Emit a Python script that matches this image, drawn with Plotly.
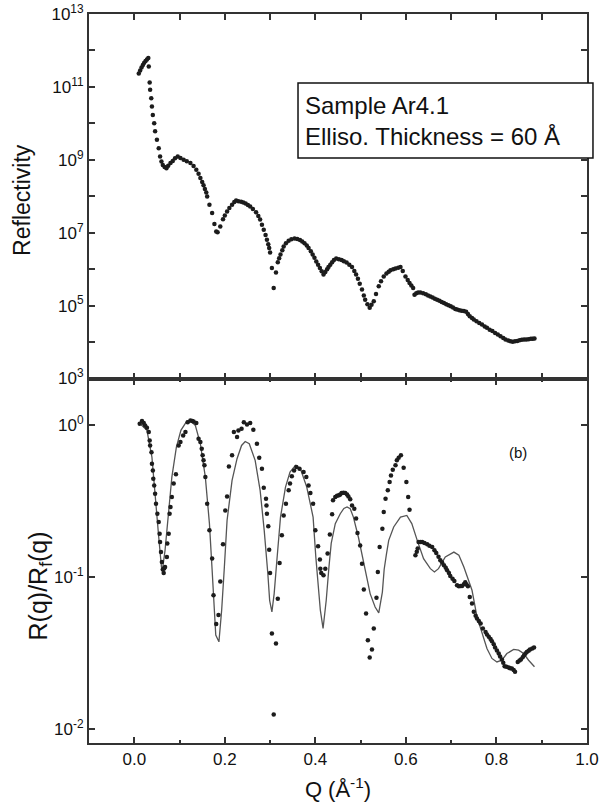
import plotly.graph_objects as go

# ---------------- top panel: reflectivity (Q, log10 R) ----------------
refl_q = [0.010, 0.013, 0.016, 0.019, 0.022, 0.025, 0.028, 0.031, 0.032,
          0.034, 0.035, 0.0375, 0.039, 0.041, 0.044, 0.046, 0.050, 0.054, 0.057, 0.060,
          0.063, 0.067, 0.071, 0.075, 0.080, 0.085, 0.090, 0.096, 0.102, 0.109,
          0.116, 0.124, 0.131, 0.137, 0.142, 0.146, 0.150, 0.153, 0.156, 0.159,
          0.161, 0.166, 0.172, 0.177, 0.181, 0.184, 0.190, 0.196, 0.200, 0.205,
          0.210, 0.216, 0.221, 0.225, 0.230, 0.236, 0.241, 0.246, 0.251, 0.256,
          0.262, 0.269, 0.274, 0.278, 0.282, 0.286, 0.290, 0.293, 0.296, 0.298,
          0.300, 0.304, 0.308, 0.313, 0.317, 0.320, 0.323, 0.327, 0.330, 0.335,
          0.341, 0.347, 0.354, 0.360, 0.366, 0.371, 0.376, 0.381, 0.385, 0.390,
          0.394, 0.398, 0.402, 0.406, 0.410, 0.414, 0.418, 0.422, 0.426, 0.429,
          0.433, 0.437, 0.441, 0.446, 0.452, 0.458, 0.463, 0.469, 0.475, 0.481,
          0.486, 0.490, 0.494, 0.498, 0.503, 0.507, 0.510, 0.515, 0.520, 0.524,
          0.529, 0.534, 0.540, 0.545, 0.551, 0.557, 0.562, 0.566, 0.572, 0.577,
          0.583, 0.588, 0.593, 0.599, 0.604, 0.608, 0.612, 0.616, 0.619, 0.623,
          0.627, 0.632, 0.638, 0.644, 0.649, 0.654, 0.659, 0.664, 0.669, 0.674,
          0.679, 0.684, 0.689, 0.694, 0.699, 0.704, 0.709, 0.713, 0.718, 0.723,
          0.728, 0.733, 0.737, 0.741, 0.746, 0.750, 0.756, 0.762, 0.768, 0.774,
          0.779, 0.785, 0.791, 0.797, 0.803, 0.809, 0.815, 0.820, 0.826, 0.831,
          0.836, 0.841, 0.846, 0.851, 0.856, 0.861, 0.866, 0.871, 0.876, 0.880,
          0.884]
refl_log10 = [11.37, 11.45, 11.53, 11.60, 11.66, 11.71, 11.75, 11.79, 11.56,
              11.12, 10.92, 10.69, 10.46, 10.23, 10.00, 9.78, 9.55, 9.32, 9.09, 8.95,
              8.86, 8.80, 8.77, 8.84, 8.91, 8.97, 9.04, 9.09, 9.05, 9.00,
              8.96, 8.91, 8.83, 8.73, 8.62, 8.50, 8.39, 8.30, 8.20, 8.10,
              7.99, 7.77, 7.54, 7.24, 7.03, 7.01, 7.17, 7.37, 7.47, 7.58,
              7.68, 7.77, 7.84, 7.88, 7.86, 7.85, 7.83, 7.80, 7.76, 7.72,
              7.65, 7.56, 7.46, 7.36, 7.22, 7.08, 6.94, 6.81, 6.68, 6.58,
              6.46, 6.03, 5.48, 5.91, 6.19, 6.30, 6.40, 6.52, 6.62, 6.71,
              6.78, 6.82, 6.84, 6.83, 6.80, 6.76, 6.71, 6.65, 6.58, 6.49,
              6.40, 6.31, 6.21, 6.12, 6.03, 5.94, 5.85, 5.92, 6.00, 6.06,
              6.12, 6.19, 6.25, 6.29, 6.27, 6.25, 6.22, 6.18, 6.12, 6.06,
              5.95, 5.85, 5.74, 5.60, 5.44, 5.28, 5.16, 5.04, 4.94, 5.02,
              5.12, 5.32, 5.53, 5.67, 5.80, 5.88, 5.93, 5.97, 6.00, 6.02,
              6.04, 6.06, 5.95, 5.80, 5.70, 5.62, 5.55, 5.48, 5.30, 5.34,
              5.36, 5.36, 5.34, 5.31, 5.28, 5.25, 5.22, 5.19, 5.16, 5.13,
              5.10, 5.07, 5.04, 5.01, 4.98, 4.95, 4.91, 4.89, 4.87, 4.86,
              4.85, 4.83, 4.77, 4.71, 4.66, 4.62, 4.57, 4.52, 4.48, 4.43,
              4.39, 4.34, 4.30, 4.25, 4.21, 4.16, 4.11, 4.07, 4.04, 4.02,
              4.01, 4.02, 4.03, 4.05, 4.06, 4.07, 4.07, 4.08, 4.09, 4.09,
              4.10]

# ---------------- bottom panel: R(q)/Rf(q) data (Q, log10 ratio) ----------------
ratio_q = [0.012, 0.017, 0.021, 0.024, 0.028, 0.032, 0.034, 0.035, 0.038, 0.039,
           0.041, 0.042, 0.044, 0.046, 0.048, 0.051, 0.054, 0.056, 0.057, 0.059,
           0.061, 0.063, 0.065, 0.066, 0.068, 0.072, 0.073, 0.076, 0.078, 0.080,
           0.083, 0.087, 0.092, 0.098, 0.102, 0.108, 0.113, 0.118, 0.124, 0.128,
           0.131, 0.137, 0.142, 0.146, 0.149, 0.151, 0.153, 0.155, 0.157, 0.161,
           0.166, 0.172, 0.175, 0.181, 0.186, 0.190, 0.196, 0.201, 0.205, 0.209,
           0.216, 0.220, 0.227, 0.230, 0.237, 0.242, 0.249, 0.256, 0.263, 0.271,
           0.276, 0.282, 0.286, 0.291, 0.292, 0.293, 0.296, 0.298, 0.300, 0.304,
           0.308, 0.313, 0.317, 0.321, 0.326, 0.330, 0.335, 0.341, 0.344, 0.348,
           0.353, 0.358, 0.365, 0.374, 0.380, 0.385, 0.389, 0.395, 0.400, 0.406,
           0.410, 0.411, 0.413, 0.418, 0.422, 0.427, 0.432, 0.437, 0.439, 0.444,
           0.448, 0.452, 0.455, 0.458, 0.462, 0.466, 0.470, 0.473, 0.477, 0.481,
           0.486, 0.490, 0.493, 0.499, 0.503, 0.507, 0.512, 0.516, 0.520, 0.525,
           0.529, 0.535, 0.538, 0.542, 0.548, 0.551, 0.555, 0.560, 0.564, 0.567,
           0.571, 0.577, 0.580, 0.584, 0.589, 0.595, 0.601, 0.605, 0.608, 0.621,
           0.624, 0.626, 0.628, 0.632, 0.636, 0.641, 0.647, 0.652, 0.658, 0.663,
           0.667, 0.672, 0.676, 0.680, 0.684, 0.688, 0.691, 0.695, 0.698, 0.703,
           0.707, 0.713, 0.717, 0.721, 0.724, 0.728, 0.731, 0.734, 0.737, 0.741,
           0.746, 0.750, 0.754, 0.757, 0.761, 0.765, 0.770, 0.776, 0.779, 0.783,
           0.787, 0.790, 0.794, 0.797, 0.801, 0.805, 0.808, 0.812, 0.815, 0.818,
           0.822, 0.827, 0.830, 0.834, 0.838, 0.841, 0.847, 0.851, 0.854, 0.858,
           0.861, 0.864, 0.867, 0.871, 0.874, 0.879, 0.883]
ratio_log10 = [0.007, 0.024, 0.011, -0.005, -0.020, -0.048, -0.103, -0.136, -0.180, -0.256,
               -0.300, -0.355, -0.400, -0.453, -0.519, -0.585, -0.640, -0.716, -0.771, -0.836,
               -0.902, -0.952, -0.974, -0.945, -0.935, -0.869, -0.781, -0.716, -0.585, -0.541,
               -0.475, -0.387, -0.326, -0.136, -0.114, -0.070, -0.048, 0.017, 0.028, 0.025,
               0.022, 0.011, -0.092, -0.114, -0.158, -0.200, -0.234, -0.267, -0.344, -0.519,
               -0.694, -0.880, -1.120, -1.310, -1.250, -1.030, -0.786, -0.563, -0.471, -0.274,
               -0.200, -0.048, -0.081, -0.038, -0.027, 0.017, 0.002, 0.011, -0.033, -0.125,
               -0.217, -0.289, -0.414, -0.486, -0.530, -0.585, -0.668, -0.821, -0.974, -1.372,
               -1.904, -1.438, -1.143, -0.909, -0.727, -0.596, -0.519, -0.431, -0.387, -0.339,
               -0.300, -0.278, -0.289, -0.311, -0.344, -0.399, -0.449, -0.519, -0.694, -0.799,
               -0.886, -0.946, -0.974, -0.989, -0.946, -0.847, -0.722, -0.589, -0.497, -0.475,
               -0.466, -0.464, -0.458, -0.449, -0.447, -0.449, -0.458, -0.471, -0.490, -0.530,
               -0.552, -0.617, -0.712, -0.793, -0.913, -1.083, -1.241, -1.416, -1.530, -1.477,
               -1.339, -1.138, -0.968, -0.804, -0.683, -0.574, -0.486, -0.431, -0.377, -0.333,
               -0.295, -0.267, -0.234, -0.217, -0.200, -0.282, -0.377, -0.475, -0.558, -0.858,
               -0.835, -0.814, -0.771, -0.770, -0.771, -0.778, -0.786, -0.795, -0.804, -0.825,
               -0.843, -0.868, -0.891, -0.905, -0.924, -0.940, -0.957, -0.975, -0.995, -1.012,
               -1.027, -1.055, -1.062, -1.060, -1.060, -1.048, -1.036, -1.050, -1.062, -1.132,
               -1.175, -1.230, -1.255, -1.274, -1.290, -1.307, -1.339, -1.362, -1.378, -1.394,
               -1.408, -1.423, -1.443, -1.464, -1.484, -1.504, -1.523, -1.543, -1.565, -1.587,
               -1.590, -1.596, -1.600, -1.602, -1.612, -1.624, -1.559, -1.550, -1.543, -1.528,
               -1.515, -1.504, -1.493, -1.485, -1.477, -1.470, -1.464]

# ---------------- bottom panel: fit curve (Q, log10 ratio) ----------------
fit_q = [0.013, 0.028, 0.039, 0.046, 0.054, 0.060, 0.062, 0.068, 0.076, 0.083,
         0.093, 0.103, 0.116, 0.124, 0.135, 0.146, 0.157, 0.166, 0.172, 0.176,
         0.180, 0.187, 0.193, 0.199, 0.205, 0.216, 0.227, 0.237, 0.245, 0.254,
         0.267, 0.278, 0.287, 0.295, 0.299, 0.304, 0.309, 0.315, 0.323, 0.334,
         0.344, 0.356, 0.367, 0.381, 0.395, 0.401, 0.405, 0.411, 0.417, 0.424,
         0.430, 0.435, 0.444, 0.455, 0.463, 0.470, 0.477, 0.484, 0.495, 0.507,
         0.518, 0.521, 0.532, 0.540, 0.548, 0.552, 0.557, 0.562, 0.573, 0.588,
         0.602, 0.613, 0.625, 0.639, 0.654, 0.663, 0.672, 0.687, 0.706, 0.717,
         0.728, 0.739, 0.746, 0.757, 0.768, 0.779, 0.790, 0.801, 0.812, 0.823,
         0.838, 0.849, 0.860, 0.871, 0.884]
fit_log10 = [0.007, -0.037, -0.213, -0.475, -0.738, -0.935, -0.957, -0.825, -0.563, -0.344,
             -0.147, -0.037, 0.024, 0.028, -0.005, -0.125, -0.344, -0.650, -0.957, -1.200,
             -1.383, -1.427, -1.219, -0.935, -0.628, -0.366, -0.223, -0.136, -0.110, -0.125,
             -0.234, -0.431, -0.694, -0.978, -1.154, -1.230, -1.110, -0.891, -0.607, -0.410,
             -0.311, -0.267, -0.289, -0.410, -0.607, -0.869, -1.022, -1.219, -1.339, -1.154,
             -0.935, -0.780, -0.650, -0.585, -0.550, -0.540, -0.552, -0.607, -0.738, -0.913,
             -1.066, -1.110, -1.198, -1.237, -1.100, -0.950, -0.850, -0.760, -0.672, -0.607,
             -0.596, -0.650, -0.760, -0.880, -0.946, -0.968, -0.946, -0.869, -0.837, -0.858,
             -0.935, -1.022, -1.088, -1.263, -1.372, -1.471, -1.536, -1.559, -1.548, -1.504,
             -1.477, -1.482, -1.504, -1.548, -1.591]

# tick labels
top_tick_exps = [3, 4, 5, 6, 7, 8, 9, 10, 11, 12, 13]
bottom_tick_exps = [-2, -1, 0]
x_major = [0.0, 0.2, 0.4, 0.6, 0.8, 1.0]
x_labels = ["0.0", "0.2", "0.4", "0.6", "0.8", "1.0"]

FONT = "Liberation Sans, Arial, sans-serif"
AX = "#333333"
DOT = "#1c1c1c"

fig = go.Figure()
fig.add_trace(go.Scatter(
    x=refl_q, y=[10 ** e for e in refl_log10], mode="markers",
    marker=dict(size=4.5, color=DOT), xaxis="x2", yaxis="y2", showlegend=False))
fig.add_trace(go.Scatter(
    x=fit_q, y=[10 ** e for e in fit_log10], mode="lines",
    line=dict(color="#555555", width=1.3), xaxis="x", yaxis="y", showlegend=False))
fig.add_trace(go.Scatter(
    x=ratio_q, y=[10 ** e for e in ratio_log10], mode="markers",
    marker=dict(size=4.5, color=DOT), xaxis="x", yaxis="y", showlegend=False))

common_ax = dict(showline=True, linecolor=AX, linewidth=2, mirror="ticks",
                 ticks="inside", tickcolor=AX, tickwidth=1.5, ticklen=6,
                 showgrid=False, zeroline=False, automargin=False,
                 tickfont=dict(family=FONT, size=17, color="#111"))

fig.update_layout(
    width=612, height=810,
    margin=dict(l=89, r=25, t=14, b=67),
    paper_bgcolor="white", plot_bgcolor="white",
    font=dict(family=FONT, color="#111"),
    xaxis=dict(range=[-0.1, 1.0], anchor="y", domain=[0, 1],
               tickvals=x_major, ticktext=x_labels,
               minor=dict(tickvals=[-0.1, 0.1, 0.3, 0.5, 0.7, 0.9], ticks="inside",
                          ticklen=3, tickcolor=AX, tickwidth=1.5),
               title=dict(text="Q (Å<sup>-1</sup>)", font=dict(family=FONT, size=22, color="#111"),
                          standoff=13),
               **common_ax),
    xaxis2=dict(range=[-0.1, 1.0], anchor="y2", matches="x",
                tickvals=[0.0, 0.1, 0.2, 0.3, 0.4, 0.5, 0.6, 0.7, 0.8, 0.9],
                showticklabels=False, **common_ax),
    yaxis=dict(type="log", domain=[0, 0.5], anchor="x", range=[-2.092, 0.304],
               tickvals=[10 ** e for e in bottom_tick_exps],
               ticktext=["10<sup>%d</sup>" % e for e in bottom_tick_exps],
               **common_ax),
    yaxis2=dict(type="log", domain=[0.5, 1], anchor="x2", range=[3, 13],
                tickvals=[10 ** e for e in top_tick_exps],
                ticktext=[("10<sup>%d</sup>" % e) if e % 2 == 1 else "" for e in top_tick_exps],
                **common_ax),
)

# y-axis titles
fig.add_annotation(xref="paper", yref="paper", x=-0.1345, y=0.745,
                   xanchor="center", yanchor="middle", showarrow=False, textangle=-90,
                   text="Reflectivity", font=dict(family=FONT, size=23, color="#111"))
fig.add_annotation(xref="paper", yref="paper", x=-0.098, y=0.215,
                   xanchor="center", yanchor="middle", showarrow=False, textangle=-90,
                   text="R(q)/R<sub>f</sub>(q)", font=dict(family=FONT, size=25, color="#111"))

# sample text box
fig.add_shape(type="rect", xref="paper", yref="paper",
              x0=0.4197, x1=1.012, y0=0.8025, y1=0.9053,
              line=dict(color="#111", width=1.5), fillcolor="white", layer="above")
fig.add_annotation(xref="paper", yref="paper", x=0.4297, y=0.8532,
                   xanchor="left", yanchor="middle", align="left", showarrow=False,
                   text="Sample Ar4.1<br>Elliso. Thickness = 60 Å",
                   font=dict(family=FONT, size=24, color="#111"))
fig.add_annotation(xref="paper", yref="paper", x=0.861, y=0.399,
                   xanchor="center", yanchor="middle", showarrow=False,
                   text="(b)", font=dict(family=FONT, size=15, color="#111"))

# remove the default 8 px page margin so the figure sits at the window origin
fig.write_html("out.html", config={"displayModeBar": False},
               post_script="document.body.style.margin='0px';")
